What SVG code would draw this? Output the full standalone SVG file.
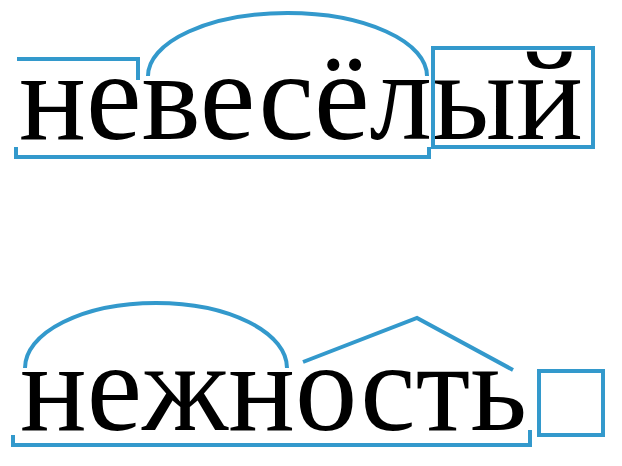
<svg xmlns="http://www.w3.org/2000/svg" width="622" height="466" viewBox="0 0 622 466">
<style>
.word{font-family:"Liberation Serif","Times New Roman",serif;font-size:127px;fill:#000}
.mark{fill:none;stroke:#3399cc;stroke-width:4;stroke-linejoin:miter}
</style>
<rect width="622" height="466" fill="#ffffff"/>
<g id="word1">
<text class="word" x="19" y="139" textLength="564" lengthAdjust="spacingAndGlyphs">невесёлый</text>
</g>
<g id="word1-marks">
<path id="w1-prefix" class="mark" d="M17,59 H138 V80"/>
<path id="w1-root" class="mark" d="M148,76 A139.5,63 0 0 1 427,76"/>
<rect id="w1-ending" class="mark" x="433" y="48" width="160" height="99"/>
<path id="w1-stem" class="mark" d="M16,147 V157 H429 V147"/>
</g>
<g id="word2">
<text class="word" x="20" y="430" textLength="507" lengthAdjust="spacingAndGlyphs">нежность</text>
</g>
<g id="word2-marks">
<path id="w2-root" class="mark" d="M25,368 A131,65 0 0 1 287,368"/>
<path id="w2-suffix" class="mark" d="M303,362 L417,318 L513,370"/>
<rect id="w2-ending" class="mark" x="539" y="371" width="64" height="64"/>
<path id="w2-stem" class="mark" d="M13,435 V445 H530 V430"/>
</g>
</svg>
